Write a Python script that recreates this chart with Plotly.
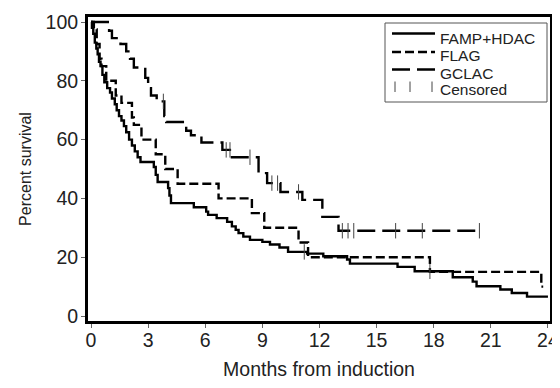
import plotly.graph_objects as go
import numpy as np

# ---- data ----
famp_t = [0, 0.05, 0.12, 0.2, 0.28, 0.35, 0.42, 0.5, 0.6, 0.7, 0.85, 1.0, 1.1, 1.25, 1.35, 1.47,
          1.6, 1.73, 1.85, 2.0, 2.15, 2.3, 2.45, 2.6, 3.3, 3.4, 3.5, 4.05, 4.12, 4.2, 5.4, 6.05,
          6.15, 6.6, 7.15, 7.4, 7.6, 7.75, 8.0, 8.35, 9.0, 9.4, 9.9, 10.35, 11.35, 12.2, 13.45,
          13.6, 16.1, 17.0, 19.0, 20.05, 20.25, 21.5, 22.1, 22.9, 24.0]
famp_s = [100, 98, 96, 93, 91, 89, 86.5, 85, 82, 79.5, 77.5, 76, 74, 72, 70, 68,
          66.5, 64.6, 62.5, 60, 58, 56, 54, 52.4, 50.7, 48, 45.6, 43.5, 41, 38.4, 37, 35.5,
          34.4, 33.3, 32, 30.5, 29.3, 28.2, 27, 25.9, 25.2, 24.3, 23.3, 21.8, 21.2, 20.3, 19.2,
          17.8, 16.7, 15.2, 13.2, 11.7, 10.1, 9, 7.8, 6.6, 6.6]
famp_cens = [11.2, 17.8]

flag_t = [0, 0.15, 0.3, 0.45, 0.55, 0.8, 1.3, 1.6, 2.15, 2.25, 2.65, 3.4, 3.9, 4.55, 6.7,
          8.45, 9.1, 10.9, 11.4, 17.8, 23.65, 23.75]
flag_s = [100, 97.5, 92.5, 87.5, 85, 80, 75, 72.5, 67.5, 65, 60, 55, 50, 45, 40,
          35, 30, 25, 20, 15, 10, 10]

gclac_t = [0, 0.95, 1.1, 1.55, 1.85, 2.05, 2.25, 2.85, 3.0, 3.15, 3.45, 3.85, 3.95, 5.0, 5.25,
           5.8, 6.9, 7.4, 8.8, 9.25, 9.95, 11.1, 12.15, 13.0, 20.4]
gclac_s = [100, 97, 94.5, 92.5, 90, 87.5, 84.5, 81, 77.5, 75, 73, 68, 66, 63, 61.5,
           59, 56.5, 54, 48.6, 45.2, 42.2, 39.5, 33.7, 29, 29]
gclac_cens = [3.8, 7.1, 7.3, 8.35, 9.5, 9.8, 10.9, 13.2, 13.5, 13.8, 16.0, 17.4, 20.4]

x_ticks = [0, 3, 6, 9, 12, 15, 18, 21, 24]
y_ticks = [0, 20, 40, 60, 80, 100]

FONT = "Liberation Sans Narrow, Arial Narrow, Liberation Sans, Arial, sans-serif"
DASH_FLAG = "9px,4px"
DASH_GCLAC = "18px,7px"


def surv_at(ts, ss, c):
    i = np.searchsorted(np.array(ts), c, side="right") - 1
    return ss[max(i, 0)]


fig = go.Figure()
for ts, ss, dash, name in [(famp_t, famp_s, "solid", "FAMP+HDAC"),
                           (flag_t, flag_s, DASH_FLAG, "FLAG"),
                           (gclac_t, gclac_s, DASH_GCLAC, "GCLAC")]:
    fig.add_trace(go.Scatter(x=ts, y=ss, mode="lines", line_shape="hv", name=name,
                             line=dict(color="black", width=2.4, dash=dash),
                             showlegend=False))

cx, cy = [], []
for ts, ss, cs in [(famp_t, famp_s, famp_cens), (gclac_t, gclac_s, gclac_cens)]:
    for c in cs:
        cx.append(c)
        cy.append(surv_at(ts, ss, c))
fig.add_trace(go.Scatter(x=cx, y=cy, mode="markers", name="Censored", showlegend=False,
                         marker=dict(symbol="line-ns", size=11,
                                     line=dict(color="#444", width=1))))

# The page body has an 8px margin; figure pixel = page pixel - OFF
OFF = 8
FIG_W, FIG_H = 560 - OFF, 388 - 2 * OFF
L, R, T, B = 88 - OFF, 550 - OFF, 17 - OFF, 321 - OFF
W, H = R - L, B - T


def px(x):  # page pixel -> paper
    return (x - OFF - L) / W


def py(y):
    return (B - (y - OFF)) / H


shapes = [
    dict(type="rect", xref="paper", yref="paper", x0=px(385), x1=px(547), y0=py(102), y1=py(23),
         line=dict(color="#555", width=1), fillcolor="white", layer="above"),
    dict(type="line", xref="paper", yref="paper", x0=px(392), x1=px(435), y0=py(33.5), y1=py(33.5),
         line=dict(color="black", width=2.4)),
    dict(type="line", xref="paper", yref="paper", x0=px(392), x1=px(435), y0=py(52), y1=py(52),
         line=dict(color="black", width=2.4, dash=DASH_FLAG)),
    dict(type="line", xref="paper", yref="paper", x0=px(392), x1=px(435), y0=py(69.5), y1=py(69.5),
         line=dict(color="black", width=2.4, dash=DASH_GCLAC)),
]
for tx in [395, 410, 432]:
    shapes.append(dict(type="line", xref="paper", yref="paper", x0=px(tx), x1=px(tx),
                       y0=py(92), y1=py(81.5), line=dict(color="#444", width=1)))

annotations = []
for label, yy in [("FAMP+HDAC", 38.5), ("FLAG", 55), ("GCLAC", 73), ("Censored", 89.5)]:
    annotations.append(dict(text=label, xref="paper", yref="paper", x=px(438), y=py(yy),
                            xanchor="left", yanchor="middle", showarrow=False,
                            font=dict(family=FONT, size=15.5, color="#222")))

# data range (page pixels): x_px = 91 + 19.04*m ; y_px = 316 - 2.94*p
x_range = [(L + OFF - 91) / 19.04, (R + OFF - 91) / 19.04]
y_range = [(316 - (B + OFF)) / 2.94, (316 - (T + OFF)) / 2.94]

fig.update_layout(
    width=FIG_W, height=FIG_H,
    margin=dict(l=L, r=FIG_W - R, t=T, b=FIG_H - B),
    paper_bgcolor="white", plot_bgcolor="white",
    font=dict(family=FONT, size=18, color="#222"),
    shapes=shapes, annotations=annotations,
    xaxis=dict(range=x_range, tickvals=x_ticks, ticks="outside", ticklen=4, tickwidth=1,
               tickcolor="#666", showline=True, mirror=True, linewidth=3, linecolor="black",
               showgrid=False, zeroline=False, automargin=False, ticklabelstandoff=-4,
               title=dict(text="Months from induction", standoff=16,
                          font=dict(family=FONT, size=19.5, color="#222")),
               tickfont=dict(family=FONT, size=19.5, color="#222")),
    yaxis=dict(range=y_range, tickvals=y_ticks, ticks="outside", ticklen=4, tickwidth=1,
               tickcolor="#666", showline=True, mirror=True, linewidth=3, linecolor="black",
               showgrid=False, zeroline=False, automargin=False, ticklabelstandoff=-1,
               title=dict(text="Percent survival", standoff=10,
                          font=dict(family=FONT, size=16, color="#222")),
               tickfont=dict(family=FONT, size=19.5, color="#222")),
)

fig.write_html("out.html")
